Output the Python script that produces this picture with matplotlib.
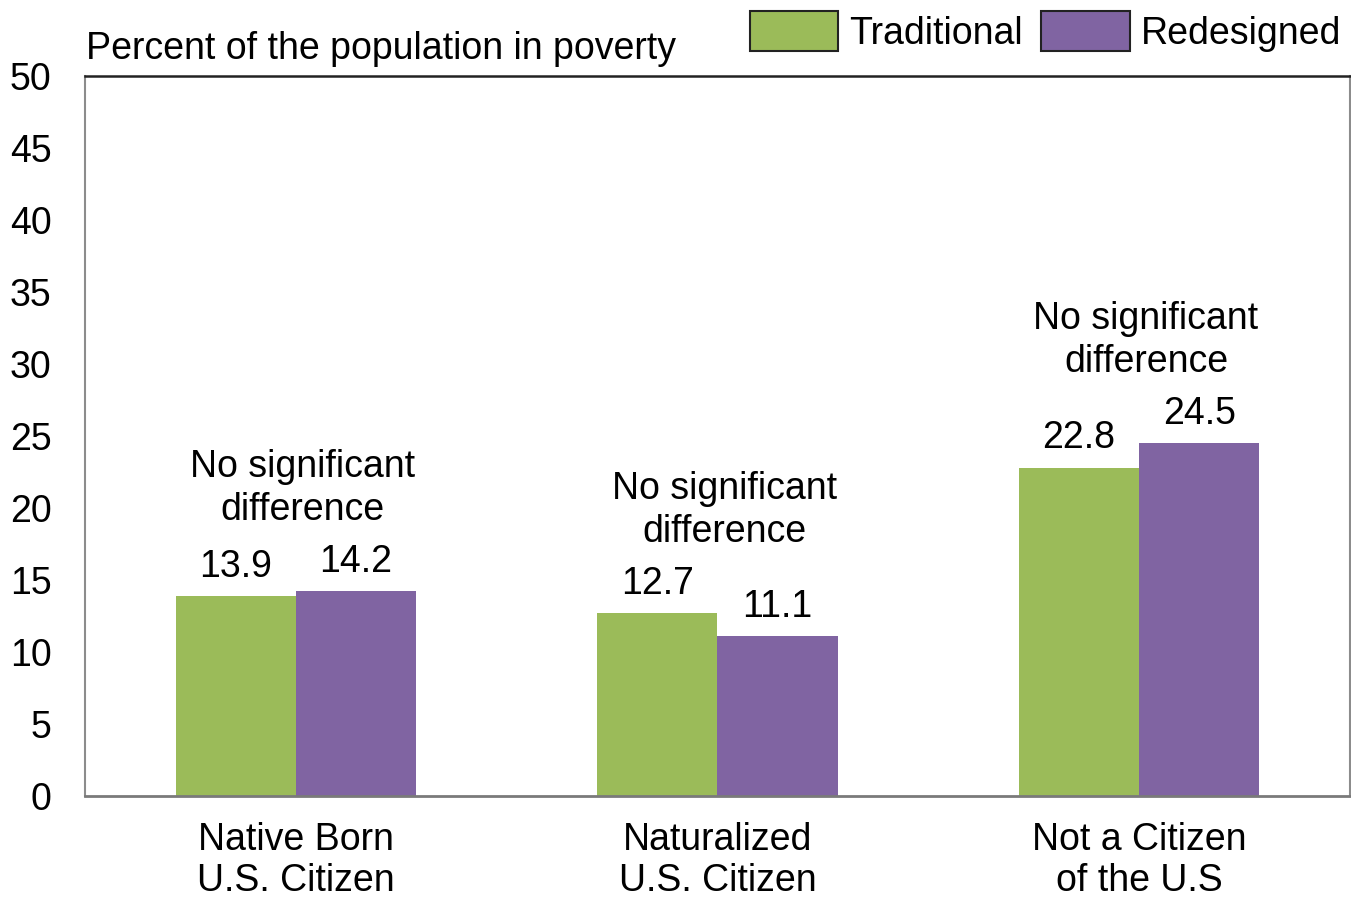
import numpy as np
import matplotlib
matplotlib.use("Agg")
import matplotlib.pyplot as plt

plt.rcParams['font.family'] = ['Liberation Sans', 'DejaVu Sans']

categories = ['Native Born\nU.S. Citizen', 'Naturalized\nU.S. Citizen', 'Not a Citizen\nof the U.S']
traditional = [13.9, 12.7, 22.8]
redesigned = [14.2, 11.1, 24.5]
notes = ['No significant\ndifference', 'No significant\ndifference', 'No significant\ndifference']
y_ticks = [0, 5, 10, 15, 20, 25, 30, 35, 40, 45, 50]

green = '#9BBB59'
purple = '#8064A2'
fs = 27

fig = plt.figure(figsize=(13.51, 8.99), dpi=100)
ax = fig.add_axes([0.0629, 0.1146, 0.9363, 0.8009])

x = np.arange(len(categories))
w = 0.285
b1 = ax.bar(x - w / 2, traditional, w, color=green, label='Traditional')
b2 = ax.bar(x + w / 2, redesigned, w, color=purple, label='Redesigned')

# value labels above each bar
for bars, vals in [(b1, traditional), (b2, redesigned)]:
    for rect, v in zip(bars, vals):
        ax.annotate(f'{v:.1f}', (rect.get_x() + rect.get_width() / 2, v),
                    xytext=(0, 21), textcoords='offset points',
                    ha='center', va='center', fontsize=fs)

# significance notes above each pair
for i, note in enumerate(notes):
    top = max(traditional[i], redesigned[i])
    ax.annotate(note, (x[i], top), xytext=(5, 74), textcoords='offset points',
                ha='center', va='center', fontsize=fs, linespacing=1.27)

ax.set_xlim(-0.5, 2.5)
ax.set_ylim(0, 50)
ax.set_yticks(y_ticks)
ax.set_xticks(x)
ax.set_xticklabels(categories, fontsize=fs, linespacing=1.18)
ax.tick_params(axis='y', length=0, pad=24, labelsize=fs)
ax.tick_params(axis='x', length=0, pad=19)

for side in ['left', 'right', 'bottom']:
    ax.spines[side].set_color('#8c8c8c')
    ax.spines[side].set_linewidth(1.5)
ax.spines['bottom'].set_color('#7a7a7a')
ax.spines['bottom'].set_linewidth(2)
ax.spines['top'].set_color('#222222')
ax.spines['top'].set_linewidth(1.8)

fig.text(0.064, 0.946, 'Percent of the population in poverty', fontsize=fs,
         ha='left', va='center')

leg = ax.legend(loc='lower right', bbox_to_anchor=(1.005, 1.013), ncol=2, frameon=False,
                fontsize=fs, handlelength=2.35, handleheight=1.3,
                handletextpad=0.3, columnspacing=0.5, borderaxespad=0.2,
                borderpad=0.2)
for h in leg.legend_handles:
    h.set_edgecolor('#222222')
    h.set_linewidth(1.5)

fig.savefig('out.png', dpi=100)
